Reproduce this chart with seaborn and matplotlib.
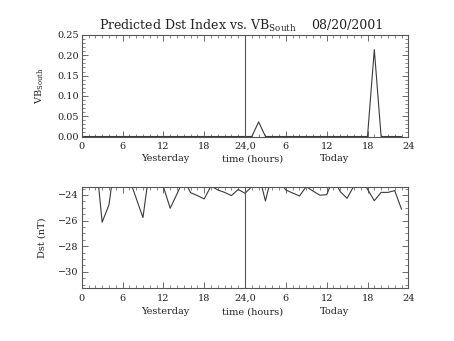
import matplotlib
matplotlib.use("Agg")
import matplotlib.pyplot as plt
from matplotlib.ticker import MultipleLocator, FixedLocator, FixedFormatter
import seaborn as sns
import pandas as pd

# ---- data (hours since start of yesterday) ----
hours = [0, 1, 2, 3, 4, 5, 6, 7, 8, 9, 10, 11, 12, 13, 14, 15,
         16, 17, 18, 19, 20, 21, 22, 23, 24, 25, 26, 27, 28, 29, 30, 31,
         32, 33, 34, 35, 36, 37, 38, 39, 40, 41, 42, 43, 44, 45, 46, 47]

vb_south = [0.0, 0.0, 0.0, 0.0, 0.0, 0.0, 0.0, 0.0, 0.0, 0.0, 0.0, 0.0,
            0.0, 0.0, 0.0, 0.0, 0.0, 0.0, 0.0, 0.0, 0.0, 0.0, 0.0, 0.0,
            0.0, 0.0, 0.036, 0.0, 0.0, 0.0, 0.0, 0.0, 0.0, 0.0, 0.0, 0.0,
            0.0, 0.0, 0.0, 0.0, 0.0, 0.0, 0.0, 0.214, 0.0, 0.0, 0.0, 0.0]

dst = [-21.5, -21.5, -20.7, -26.13, -24.78, -20.95, -21.5, -22.73,
       -24.25, -25.77, -21.82, -22.0, -23.35, -25.04, -23.92, -22.77,
       -23.82, -24.05, -24.31, -23.3, -23.61, -23.8, -24.05, -23.57,
       -23.87, -23.35, -22.33, -24.47, -22.3, -22.9, -23.61, -23.85,
       -24.08, -23.35, -23.7, -24.02, -23.98, -22.7, -23.75, -24.26,
       -23.3, -22.7, -23.55, -24.45, -23.8, -23.8, -23.66, -25.12]

xtick_pos = [0, 6, 12, 18, 24, 30, 36, 42, 48]
xtick_labels = ["0", "6", "12", "18", "24,0", "6", "12", "18", "24"]
vb_ticks = [0.00, 0.05, 0.10, 0.15, 0.20, 0.25]
dst_ticks = [-30, -28, -26, -24]

title_main = r"Predicted Dst Index vs. VB$_{\rm South}$"
title_date = "08/20/2001"

df = pd.DataFrame({"hour": hours, "vb": vb_south, "dst": dst})

sns.set_style("ticks")
plt.rcParams["font.family"] = ["DejaVu Serif"]
plt.rcParams["mathtext.fontset"] = "dejavuserif"
plt.rcParams["axes.unicode_minus"] = True

LINE = "#3a3a3a"
AX = "#555555"

fig = plt.figure(figsize=(4.54, 3.41), dpi=100)
ax1 = fig.add_axes([0.18, 0.5997, 0.7194, 0.2977])
ax2 = fig.add_axes([0.18, 0.1540, 0.7194, 0.2968])

sns.lineplot(data=df, x="hour", y="vb", ax=ax1, color=LINE, lw=0.8)
sns.lineplot(data=df, x="hour", y="dst", ax=ax2, color=LINE, lw=0.8)

ax1.set_ylim(0.0, 0.25)
ax2.set_ylim(-31.31, -23.4)

for ax in (ax1, ax2):
    ax.set_xlim(0, 48)
    ax.axvline(24, color=AX, lw=0.8)
    ax.xaxis.set_major_locator(FixedLocator(xtick_pos))
    ax.xaxis.set_major_formatter(FixedFormatter(xtick_labels))
    ax.xaxis.set_minor_locator(MultipleLocator(1))
    ax.tick_params(which="both", direction="in", top=True, right=True,
                   color=AX, labelsize=7, labelcolor="#222222")
    ax.tick_params(which="major", length=4, width=0.6)
    ax.tick_params(which="minor", length=2, width=0.5)
    ax.tick_params(axis="x", pad=4)
    ax.tick_params(axis="y", pad=2)
    for s in ax.spines.values():
        s.set_color(AX)
        s.set_linewidth(0.8)
    ax.set_xlabel("")

ax1.yaxis.set_major_locator(FixedLocator(vb_ticks))
ax1.yaxis.set_major_formatter(FixedFormatter(["%.2f" % v for v in vb_ticks]))
ax1.yaxis.set_minor_locator(MultipleLocator(0.01))
ax2.yaxis.set_major_locator(FixedLocator(dst_ticks))
ax2.yaxis.set_minor_locator(MultipleLocator(0.5))

ax1.set_ylabel(r"VB$_{\rm South}$", fontsize=7, color="#222222")
ax2.set_ylabel("Dst (nT)", fontsize=7, color="#222222")
ax1.yaxis.set_label_coords(-0.109, 0.5)
ax2.yaxis.set_label_coords(-0.109, 0.5)

# x titles (one row under each panel)
for ytxt in (1 - 158.7 / 341, 1 - 311.7 / 341):
    fig.text(165.7 / 454, ytxt, "Yesterday", ha="center", va="center",
             fontsize=7, color="#222222")
    fig.text(253.0 / 454, ytxt, "time (hours)", ha="center", va="center",
             fontsize=7, color="#222222")
    fig.text(334.3 / 454, ytxt, "Today", ha="center", va="center",
             fontsize=7, color="#222222")

fig.text(99.3 / 454, 1 - 26 / 341, title_main, ha="left", va="center",
         fontsize=9, color="#222222")
fig.text(383.3 / 454, 1 - 26 / 341, title_date, ha="right", va="center",
         fontsize=9, color="#222222")

fig.savefig("out.png", dpi=100)
